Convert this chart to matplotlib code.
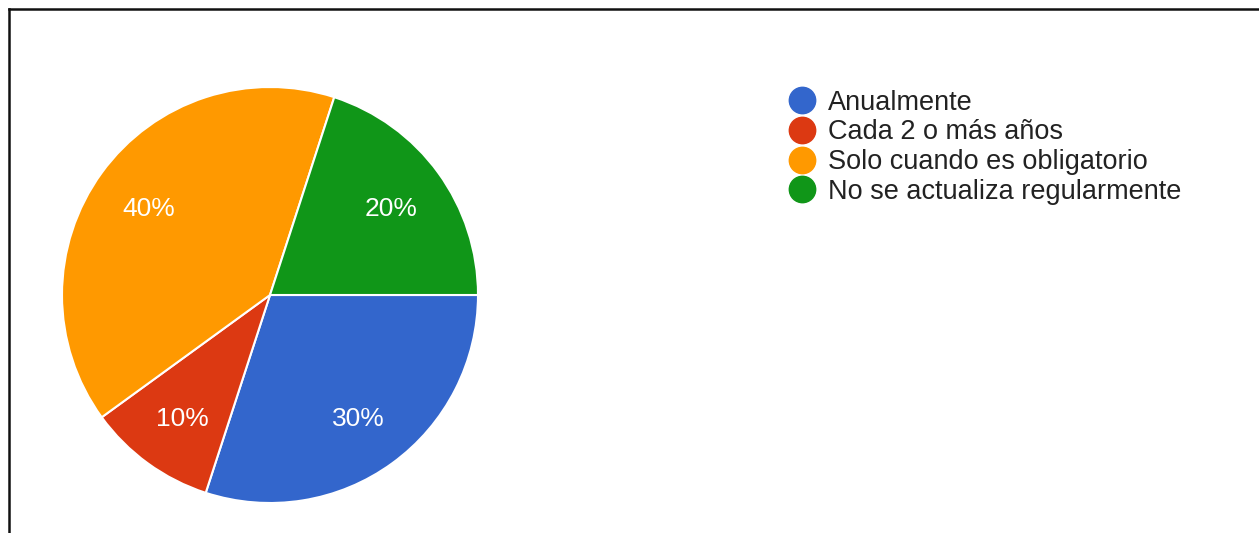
import matplotlib.pyplot as plt
from matplotlib.lines import Line2D

plt.rcParams["font.family"] = ["Liberation Sans", "DejaVu Sans"]

categorias = ["Anualmente", "Cada 2 o más años", "Solo cuando es obligatorio", "No se actualiza regularmente"]
porcentajes = [30, 10, 40, 20]
colores = ["#3366cc", "#dc3912", "#ff9900", "#109618"]

W, H = 1259, 533
fig = plt.figure(figsize=(W / 100, H / 100), dpi=100)

# marco (solo arriba e izquierda)
fig.add_artist(Line2D([9 / W, 1], [1 - 8.5 / H, 1 - 8.5 / H], color="#111111", lw=1.8))
fig.add_artist(Line2D([9 / W, 9 / W], [0, 1 - 8.5 / H], color="#111111", lw=1.8))

# pastel
cx, cy, r = 270, 295, 208
ax = fig.add_axes([(cx - r) / W, (H - cy - r) / H, 2 * r / W, 2 * r / H])
wedges, textos, autotextos = ax.pie(
    porcentajes, colors=colores, startangle=0, counterclock=False,
    autopct="%d%%", pctdistance=0.72, radius=1,
    wedgeprops=dict(edgecolor="white", linewidth=1.5),
    textprops=dict(color="white", fontsize=19))
for t in autotextos:
    t.set_verticalalignment("center_baseline")
ax.set_xlim(-1, 1)
ax.set_ylim(-1, 1)
ax.set_aspect("equal")
ax.axis("off")

# leyenda
handles = [Line2D([], [], marker="o", linestyle="", markersize=19, color=c) for c in colores]
fig.legend(handles, categorias, loc="upper left", bbox_to_anchor=(788 / W, 1 - 89.5 / H),
           frameon=False, fontsize=19.5, labelspacing=0.14, handletextpad=0.48,
           handlelength=1.0, borderaxespad=0, borderpad=0, labelcolor="#222222")

fig.savefig("out.png", dpi=100, facecolor="white")
